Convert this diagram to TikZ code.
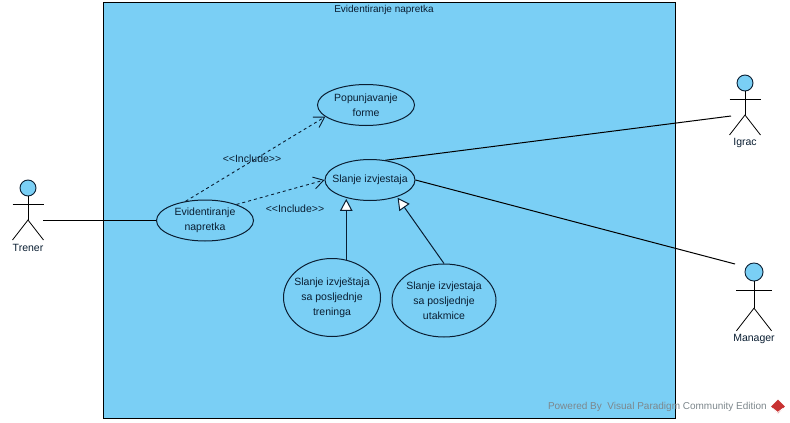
\documentclass[tikz,border=0pt]{standalone}
\usepackage{fontspec}
\setmainfont{Liberation Sans}
\usetikzlibrary{arrows.meta, positioning, shapes.geometric}
\definecolor{vpblue}{RGB}{122,207,245}
\definecolor{vpink}{RGB}{10,30,50}
\definecolor{vpgray}{RGB}{125,135,140}
\definecolor{vpred}{RGB}{200,50,50}

\begin{document}
\begin{tikzpicture}[
    x=1pt, y=-1pt,
    txt/.style={font=\fontsize{10.5pt}{15pt}\selectfont, text=vpink, align=center, inner sep=0pt},
    usecase/.style={txt, ellipse, draw=vpink, line width=1pt, fill=vpblue, inner sep=-15pt, minimum width=#1},
    include/.style={dashed, line width=0.9pt, draw=vpink, -{Straight Barb[length=10pt, width=12pt]}},
    assoc/.style={line width=1pt, draw=black},
    general/.style={line width=1pt, draw=vpink, shorten >=1pt, -{Triangle[open, fill=white, length=12pt, width=12.5pt]}},
    limb/.style={draw=black, line width=0.8pt},
    head/.style={circle, draw=vpink, line width=0.9pt, fill=vpblue, inner sep=0pt}
]
    \useasboundingbox (0, 0) rectangle (790, 423);

    % System boundary
    \node[draw=black, line width=1pt, fill=vpblue, minimum width=572pt, minimum height=416pt, inner sep=0pt] (system) at (389, 210) {};
    \node[txt, font=\fontsize{10pt}{15pt}\selectfont] (systitle) at (384, 10) {Evidentiranje napretka};

    % Use cases
    \node[usecase=97pt, minimum height=41pt] (forma) at (366, 105) {Popunjavanje\\forme};
    \node[usecase=90pt, minimum height=41pt] (slanje) at (370, 180) {Slanje izvjestaja};
    \node[usecase=97pt, minimum height=41pt] (evid) at (205, 220.5) {Evidentiranje\\napretka};
    \node[usecase=97pt, minimum height=78pt] (trening) at (332, 297.5) {Slanje izvještaja\\sa posljednje\\treninga};
    \node[usecase=104pt, minimum height=73pt] (utakmica) at (444, 300.5) {Slanje izvjestaja\\sa posljednje\\utakmice};

    % Actors
    \foreach \name/\xx/\yy/\sz/\lbl in {trener/28/188/1/Trener, igrac/745/83/1/Igrac, manager/754/272/1.13/Manager} {
        \node[head, minimum size=\sz*16pt] (\name) at (\xx, \yy) {};
        \coordinate (\name hip) at (\xx, \yy + \sz*32);
        \draw[limb] (\name.south) -- (\name hip);
        \draw[limb] (\xx - \sz*15.5, \yy + \sz*16) -- (\xx + \sz*15.5, \yy + \sz*16);
        \draw[limb] (\xx - \sz*15.5, \yy + \sz*52) -- (\name hip) -- (\xx + \sz*15.5, \yy + \sz*52);
        \node[txt] (\name label) at (\xx, \yy + \sz*52 + 8) {\lbl};
    }
    \coordinate (trenerend) at (43, 220.5);
    \coordinate (igracend) at (731, 116);
    \coordinate (managerend) at (735, 264);

    % Associations
    \draw[assoc] (trenerend) -- (evid.west);
    \draw[assoc] (slanje.52) -- (igracend);
    \draw[assoc] (slanje.east) -- (managerend);

    % Includes
    \draw[include] (evid.135) -- (forma.196);
    \draw[include] (evid.27) -- (slanje.west);
    \node[txt] (inc1) at (252, 159) {<{}<Include>{}>};
    \node[txt] (inc2) at (295, 209) {<{}<Include>{}>};

    % Generalizations
    \draw[general] (slanje.217 |- trening.68) -- (slanje.217);
    \draw[general] (utakmica.north) -- (slanje.328);

    % Watermark
    \node[font=\fontsize{10pt}{12pt}\selectfont, text=vpgray, inner sep=0pt, anchor=east] (powered) at (767, 406.5) {Powered By\ \ Visual Paradigm Community Edition};
    \node[diamond, fill=vpred, minimum size=14pt, inner sep=0pt] (logo) at (778, 406.5) {};
    \draw[white, line width=0.8pt] (logo.west) ++(2, 2) -- ++(5, 4) -- ++(5, -4);
\end{tikzpicture}
\end{document}
